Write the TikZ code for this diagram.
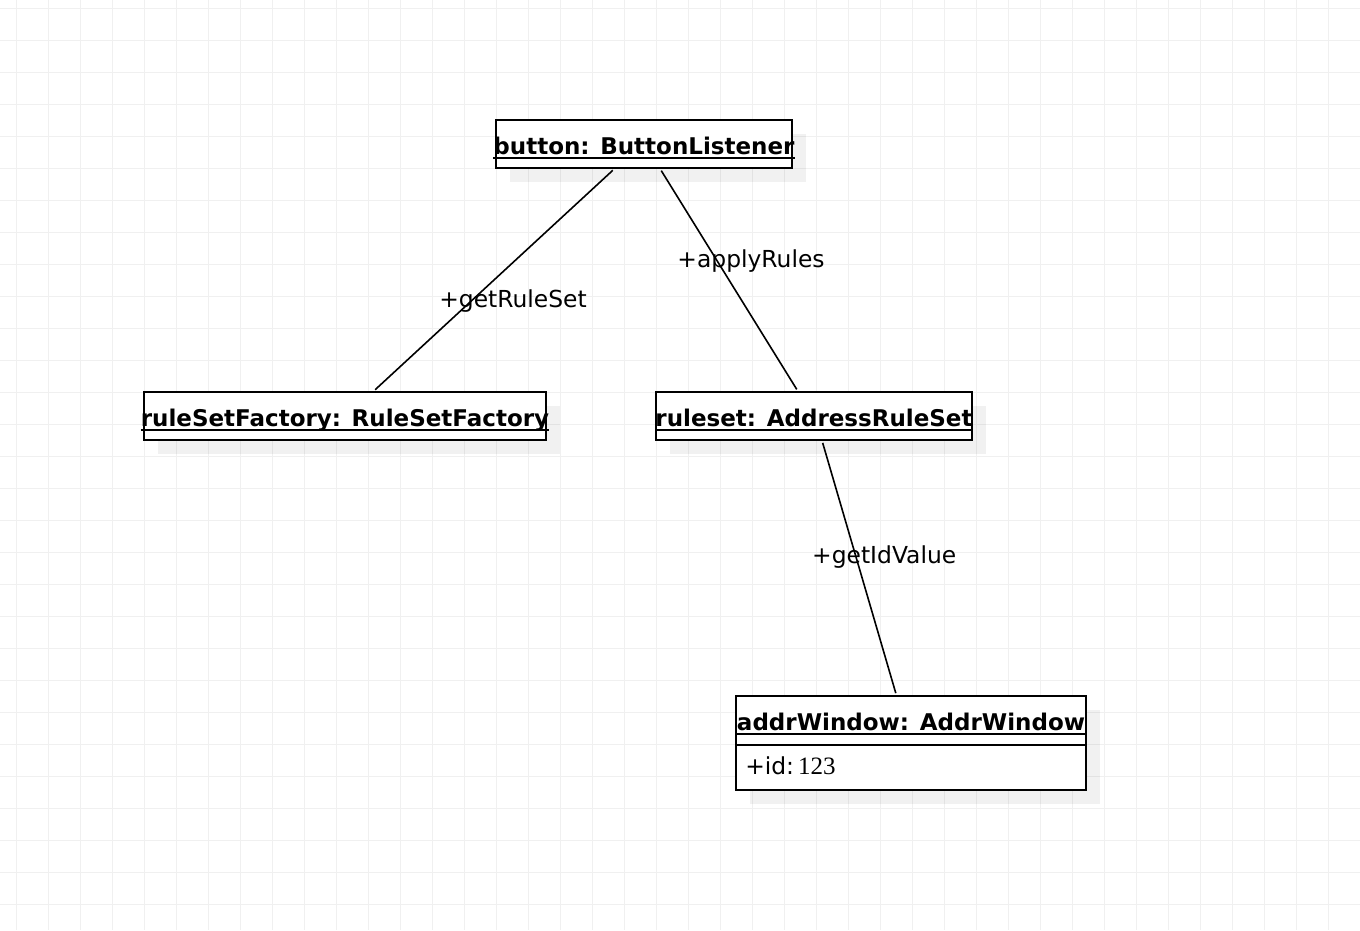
\documentclass[tikz,border=0pt]{standalone}
\usepackage{fontspec}
\setmainfont{DejaVu Sans}
\newfontfamily\numfont{Liberation Serif}
\usetikzlibrary{shadows}
\definecolor{gridline}{HTML}{F0F0F0}

\begin{document}
\begin{tikzpicture}[
    x=1pt, y=-1pt,
    object/.style={%
      draw,
      rectangle,
      line width=1.9pt,
      fill=white,
      inner sep=0pt,
      drop shadow={shadow xshift=14pt, shadow yshift=-14pt, fill=black, opacity=0.055},
    },
    objname/.style={%
      font=\fontsize{23}{27}\selectfont\bfseries,
      anchor=base,
      inner sep=0pt,
    },
    uline/.style={line width=1.9pt},
    link/.style={line width=1.6pt, shorten <=2pt, shorten >=2pt},
    msg/.style={font=\fontsize{23.4}{27}\selectfont},
  ]

    \useasboundingbox (0,0) rectangle (1360,930);
    \fill[white] (0,0) rectangle (1360,930);
    \foreach \x in {16,48,...,1360} \draw[gridline, line width=1pt] (\x,0) -- (\x,930);
    \foreach \y in {8,40,...,930} \draw[gridline, line width=1pt] (0,\y) -- (1360,\y);

    \node [object, minimum width=296pt, minimum height=48pt] (button) at (644,144) {};
    \node [objname] (buttonName) at ([yshift=-10pt]button.center) {button: ButtonListener};
    \draw [uline] ([yshift=-4pt]buttonName.base west) -- ([yshift=-4pt]buttonName.base east);

    \node [object, minimum width=402pt, minimum height=48pt] (ruleSetFactory) at (345,416) {};
    \node [objname] (ruleSetFactoryName) at ([yshift=-10pt]ruleSetFactory.center) {ruleSetFactory: RuleSetFactory};
    \draw [uline] ([yshift=-4pt]ruleSetFactoryName.base west) -- ([yshift=-4pt]ruleSetFactoryName.base east);

    \node [object, minimum width=316pt, minimum height=48pt] (ruleset) at (814,416) {};
    \node [objname] (rulesetName) at ([yshift=-10pt]ruleset.center) {ruleset: AddressRuleSet};
    \draw [uline] ([yshift=-4pt]rulesetName.base west) -- ([yshift=-4pt]rulesetName.base east);

    \node [object, minimum width=350pt, minimum height=94pt] (addrWindow) at (911,743) {};
    \node [objname] (addrWindowName) at ([yshift=13pt]addrWindow.center) {addrWindow: AddrWindow};
    \draw [uline] ([yshift=-4pt]addrWindowName.base west) -- ([yshift=-4pt]addrWindowName.base east);
    \draw [uline] ([yshift=-50pt]addrWindow.north west) -- ([yshift=-50pt]addrWindow.north east);
    \node [msg, anchor=base west, inner sep=0pt] (addrWindowId) at ([xshift=10pt, yshift=-79pt]addrWindow.north west) {+id:\,{\numfont\fontsize{25}{28}\selectfont 123}};

    \draw [link] (button.220.6) -- (ruleSetFactory.41.6) node [msg, pos=0.5, xshift=19pt, yshift=-21pt] {+getRuleSet};
    \draw [link] (button.303.7) -- (ruleset.123.7) node [msg, pos=0.5, xshift=22pt, yshift=19pt] {+applyRules};
    \draw [link] (ruleset.288.4) -- (addrWindow.107.7) node [msg, pos=0.5, xshift=25pt, yshift=11pt] {+getIdValue};
\end{tikzpicture}
\end{document}
